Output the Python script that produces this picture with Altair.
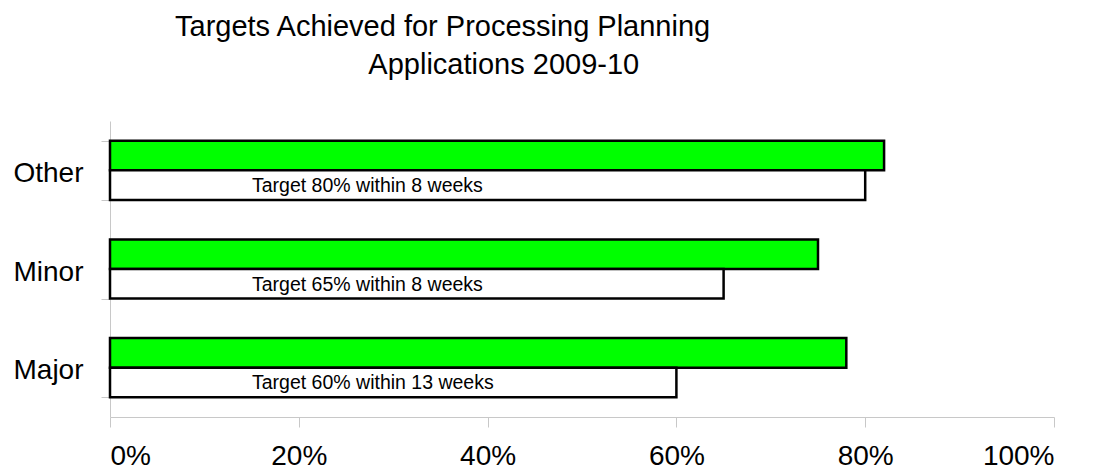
import altair as alt
import pandas as pd

categories = ["Other", "Minor", "Major"]
achieved = [0.82, 0.75, 0.78]
targets = [0.80, 0.65, 0.60]
target_labels = [
    "Target 80% within 8 weeks",
    "Target 65% within 8 weeks",
    "Target 60% within 13 weeks",
]
series = ["Achieved", "Target"]
x_ticks = [0, 0.2, 0.4, 0.6, 0.8, 1.0]

rows = []
for c, a, t, lab in zip(categories, achieved, targets, target_labels):
    rows.append({"category": c, "series": "Achieved", "value": a, "label": ""})
    rows.append({"category": c, "series": "Target", "value": t, "label": lab})
df = pd.DataFrame(rows)

FONT = "Liberation Sans"

y_enc = alt.Y(
    "category:N",
    sort=categories,
    scale=alt.Scale(paddingInner=0.4, paddingOuter=0.2),
    axis=alt.Axis(
        title=None,
        labelFontSize=28,
        labelFont=FONT,
        labelColor="black",
        labelPadding=18,
        labelOffset=3,
        tickSize=9,
        tickBand="extent",
        domainColor="#c8c8c8",
        tickColor="#c8c8c8",
        grid=False,
    ),
)
yoff = alt.YOffset(
    "series:N",
    sort=series,
    scale=alt.Scale(domain=series, paddingInner=0, paddingOuter=0),
)

bars = alt.Chart(df).mark_bar(stroke="black", strokeWidth=2.5).encode(
    y=y_enc,
    yOffset=yoff,
    x=alt.X(
        "value:Q",
        scale=alt.Scale(domain=[0, 1], nice=False),
        axis=alt.Axis(
            title=None,
            values=x_ticks,
            format=".0%",
            labelFontSize=28,
            labelFont=FONT,
            labelColor="black",
            labelPadding=15,
            tickSize=10,
            domainColor="#c8c8c8",
            tickColor="#c8c8c8",
            grid=False,
        ),
    ),
    color=alt.Color(
        "series:N",
        scale=alt.Scale(domain=series, range=["#00ff00", "#ffffff"]),
        legend=None,
    ),
)

texts = alt.Chart(df).transform_filter(alt.datum.series == "Target").mark_text(
    align="left", baseline="middle", fontSize=19.5, font=FONT, color="black", dx=142, dy=1
).encode(
    y=y_enc,
    yOffset=yoff,
    x=alt.value(0),
    text="label:N",
)

chart = alt.layer(bars, texts).properties(
    width=944,
    height=296,
    padding={"left": 4, "top": 5, "right": 0, "bottom": 0},
    title=alt.TitleParams(
        text=[
            "Targets Achieved for Processing Planning",
            "\u200b" + "\u00a0" * 24 + "Applications 2009-10",
        ],
        anchor="start",
        frame="group",
        align="left",
        dx=65,
        fontSize=29,
        font=FONT,
        fontWeight="normal",
        color="black",
        lineHeight=38,
        offset=27,
    ),
).configure_view(stroke=None)

chart.save("out.html", embed_options={"renderer": "svg", "actions": False})
